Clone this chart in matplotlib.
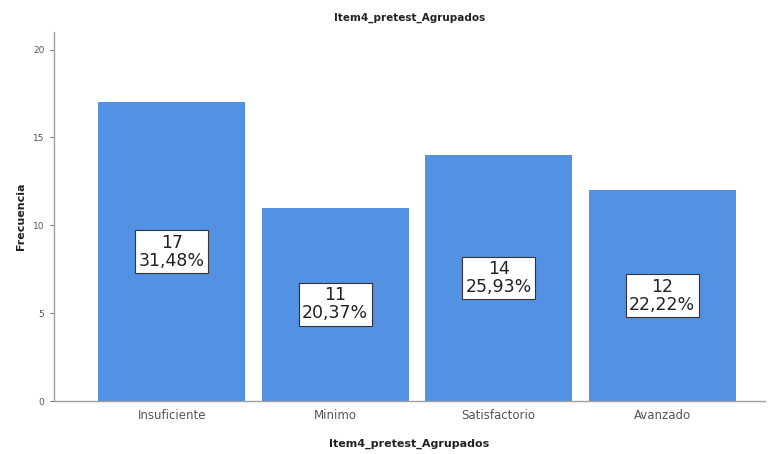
import matplotlib
matplotlib.use('Agg')
import matplotlib.pyplot as plt

categories = ['Insuficiente', 'Minimo', 'Satisfactorio', 'Avanzado']
counts = [17, 11, 14, 12]
percents = ['31,48%', '20,37%', '25,93%', '22,22%']
y_ticks = [0, 5, 10, 15, 20]

bar_color = '#5591e3'
axis_gray = '#a0a0a0'

fig = plt.figure(figsize=(7.68, 4.54), dpi=100)
ax = fig.add_axes([0.0703, 0.1167, 0.926, 0.8128])

x = range(len(categories))
bars = ax.bar(x, counts, width=0.9, color=bar_color, edgecolor='none')

# count + percentage label in the middle of each bar
for xi, c, p in zip(x, counts, percents):
    ax.text(xi, c / 2, f'{c}\n{p}', ha='center', va='center', fontsize=12.5,
            color='#222222', linespacing=1.0,
            bbox=dict(boxstyle='square,pad=0.2', facecolor='white',
                      edgecolor='#333333', linewidth=0.8))

ax.set_xlim(-0.72, 3.63)
ax.set_ylim(0, 21)
ax.set_yticks(y_ticks)
ax.set_yticklabels([str(t) for t in y_ticks])
ax.set_xticks(list(x))
ax.set_xticklabels(categories)

ax.tick_params(axis='y', labelsize=6.5, colors='#555555', length=3, width=0.6,
               direction='out', pad=4)
ax.tick_params(axis='x', labelsize=8.5, colors='#555555', length=0, pad=6)

for side in ['top', 'right']:
    ax.spines[side].set_visible(False)
for side in ['left', 'bottom']:
    ax.spines[side].set_color(axis_gray)
    ax.spines[side].set_linewidth(1.0)

ax.set_title('Item4_pretest_Agrupados', fontsize=7.5, fontweight='bold', pad=8,
             color='#222222')
ax.set_xlabel('Item4_pretest_Agrupados', fontsize=8, fontweight='bold',
              color='#222222', labelpad=12)
ax.set_ylabel('Frecuencia', fontsize=8, fontweight='bold', color='#222222',
              labelpad=5)

plt.savefig('out.png', dpi=100)
